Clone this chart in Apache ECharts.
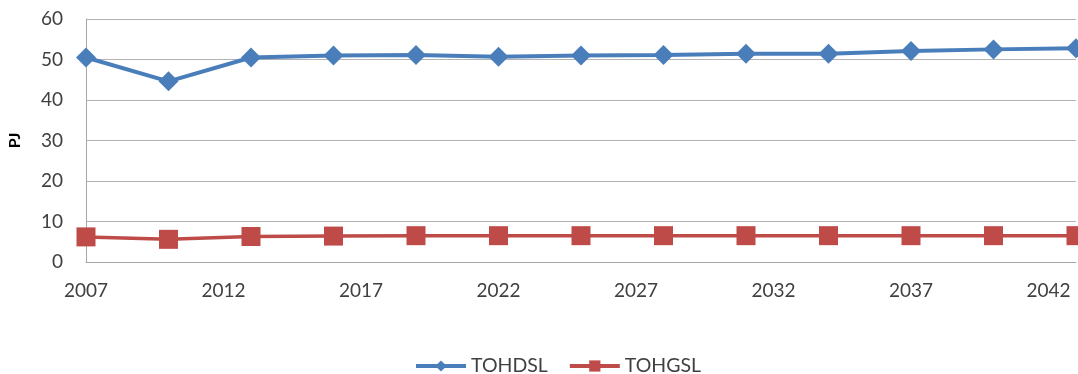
<!DOCTYPE html>
<html>
<head>
<meta charset="utf-8">
<script src="https://cdn.jsdelivr.net/npm/echarts@6/dist/echarts.min.js"></script>
<style>
  html, body { margin: 0; padding: 0; background: #fff; }
  #chart { width: 1078px; height: 374px; }
</style>
</head>
<body>
<div id="chart"></div>
<script>
// Years sampled every three years
const years = [2007, 2010, 2013, 2016, 2019, 2022, 2025, 2028, 2031, 2034, 2037, 2040, 2043];
// Diesel (TOHDSL) and gasoline (TOHGSL) consumption in PJ
const tohdsl = [50.5, 44.6, 50.5, 51.0, 51.1, 50.7, 51.0, 51.1, 51.4, 51.4, 52.1, 52.5, 52.8];
const tohgsl = [6.2, 5.6, 6.3, 6.4, 6.5, 6.5, 6.5, 6.5, 6.5, 6.5, 6.5, 6.5, 6.5];
const seriesNames = ['TOHDSL', 'TOHGSL'];

const font = 'Lato, "Open Sans", sans-serif';
const chart = echarts.init(document.getElementById('chart'));
chart.setOption({
  animation: false,
  grid: { left: 86, right: 2, top: 19, bottom: 112, containLabel: false, outerBoundsMode: 'none' },
  legend: {
    data: seriesNames,
    top: 351,
    left: 409,
    itemWidth: 50,
    itemHeight: 14,
    itemGap: 20,
    lineStyle: { width: 4 },
    textStyle: { fontFamily: font, fontSize: 19.5, color: '#404040' }
  },
  xAxis: {
    type: 'value',
    min: 2007,
    max: 2043,
    interval: 5,
    axisLine: { show: true, lineStyle: { color: '#a6a6a6', width: 1 } },
    axisTick: { show: false },
    splitLine: { show: false },
    axisLabel: {
      showMaxLabel: false,
      margin: 19,
      fontFamily: font, fontSize: 19, color: '#404040',
      formatter: v => String(v)
    }
  },
  yAxis: {
    type: 'value',
    min: 0,
    max: 60,
    interval: 10,
    name: 'PJ',
    nameLocation: 'middle',
    nameGap: 63,
    nameTextStyle: { fontFamily: font, fontSize: 16, fontWeight: 'bold', color: '#000' },
    axisLine: { show: true, lineStyle: { color: '#a6a6a6', width: 1 } },
    axisTick: { show: false },
    splitLine: { lineStyle: { color: '#b3b3b3', width: 1 } },
    axisLabel: { margin: 23, fontFamily: font, fontSize: 19, color: '#404040' }
  },
  series: [
    {
      name: seriesNames[0],
      type: 'line',
      data: years.map((y, i) => [y, tohdsl[i]]),
      symbol: 'diamond',
      symbolSize: [20, 20],
      lineStyle: { color: '#4a7ebb', width: 4 },
      itemStyle: { color: '#4a7ebb' }
    },
    {
      name: seriesNames[1],
      type: 'line',
      data: years.map((y, i) => [y, tohgsl[i]]),
      symbol: 'rect',
      symbolSize: [19, 19],
      lineStyle: { color: '#be4b48', width: 3.5 },
      itemStyle: { color: '#be4b48' }
    }
  ]
});
</script>
</body>
</html>
